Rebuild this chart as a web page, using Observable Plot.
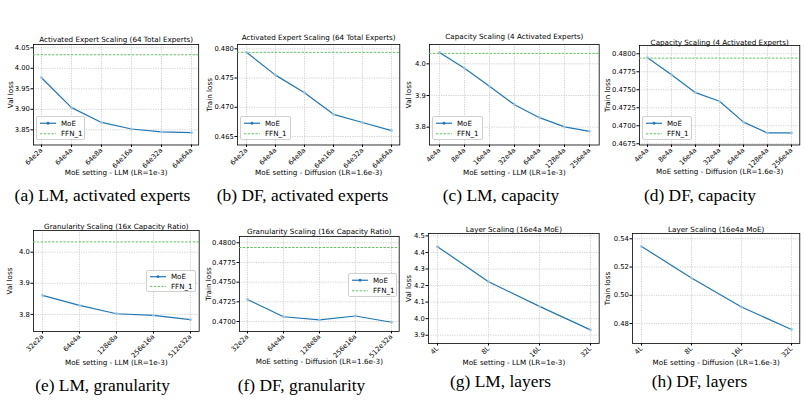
<!DOCTYPE html>
<html>
<head>
<meta charset="utf-8">
<script src="https://cdn.jsdelivr.net/npm/d3@7"></script>
<script src="https://cdn.jsdelivr.net/npm/@observablehq/plot@0.6"></script>
<style>
  html, body { margin: 0; padding: 0; background: #fff; }
  #fig { position: relative; width: 804px; height: 403px; overflow: hidden; background: #fff; font-family: "DejaVu Sans", sans-serif; }
  .panel { position: absolute; }
  .caption { position: absolute; width: 260px; text-align: center; white-space: nowrap; color: #000;
             font-family: "Liberation Serif", "Times New Roman", serif; font-size: 17.4px; line-height: 18px; }
  .legend { position: absolute; box-sizing: border-box; border: 0.8px solid #d0d0d0; border-radius: 2px;
            background: rgba(255,255,255,0.85); }
  .legend svg { position: absolute; left: 0; top: 0; overflow: visible; }
</style>
</head>
<body>
<div id="fig"></div>
<script>
// Settings (x categories)
const expertsCats = ["64e2a", "64e4a", "64e8a", "64e16a", "64e32a", "64e64a"];
const capacityCats = ["4e4a", "8e4a", "16e4a", "32e4a", "64e4a", "128e4a", "256e4a"];
const granularityCats = ["32e2a", "64e4a", "128e8a", "256e16a", "512e32a"];
const layerCats = ["4L", "8L", "16L", "32L"];

// MoE losses
const lmExpertsLoss = [3.977, 3.904, 3.868, 3.852, 3.845, 3.843];
const dfExpertsLoss = [0.4794, 0.4755, 0.4725, 0.4688, 0.4674, 0.4660];
const lmCapacityLoss = [4.036, 3.986, 3.929, 3.871, 3.830, 3.801, 3.787];
const dfCapacityLoss = [0.47945, 0.4771, 0.4746, 0.4734, 0.4705, 0.4690, 0.4690];
const lmGranularityLoss = [3.861, 3.829, 3.802, 3.797, 3.783];
const dfGranularityLoss = [0.4728, 0.4706, 0.4702, 0.4707, 0.4699];
const lmLayerLoss = [4.435, 4.223, 4.074, 3.932];
const dfLayerLoss = [0.5346, 0.5122, 0.4917, 0.4758];

// Dense FFN baselines
const lmFfnLoss = 4.033;
const dfFfnLoss = 0.4794;

// Y tick values
const lmExpertsTicks = [3.85, 3.90, 3.95, 4.00, 4.05];
const dfExpertsTicks = [0.465, 0.470, 0.475, 0.480];
const lmCapacityTicks = [3.8, 3.9, 4.0];
const dfCapacityTicks = [0.4675, 0.4700, 0.4725, 0.4750, 0.4775, 0.4800];
const lmGranularityTicks = [3.8, 3.9, 4.0];
const dfGranularityTicks = [0.4700, 0.4725, 0.4750, 0.4775, 0.4800];
const lmLayerTicks = [3.9, 4.0, 4.1, 4.2, 4.3, 4.4, 4.5];
const dfLayerTicks = [0.48, 0.50, 0.52, 0.54];

const lmXLabel = "MoE setting - LLM (LR=1e-3)";
const dfXLabel = "MoE setting - Diffusion (LR=1.6e-3)";

const MOE_BLUE = "#1f77b4";
const FFN_GREEN = "#5fc25f";
const TEXT_SIZE = 7.2;
const TICK_SIZE = 6.8;

// Layout of each subplot: frame box, text anchors (page px), y domain
const panels = [
  { cats: expertsCats, values: lmExpertsLoss, ffn: lmFfnLoss, ticks: lmExpertsTicks, fmt: ".2f",
    ylabel: "Val loss", xlabel: lmXLabel, title: "Activated Expert Scaling (64 Total Experts)",
    caption: "(a) LM, activated experts", domain: [3.813, 4.058],
    frame: { l: 33.3, r: 198.5, t: 44, b: 144.5 }, titleY: 39, xlabelY: 172.7, ylabelX: 10.3,
    captionX: 102.5, captionY: 201, legend: { x: 36, y: 116, w: 49, h: 24 } },
  { cats: expertsCats, values: dfExpertsLoss, ffn: dfFfnLoss, ticks: dfExpertsTicks, fmt: ".3f",
    ylabel: "Train loss", xlabel: dfXLabel, title: "Activated Expert Scaling (64 Total Experts)",
    caption: "(b) DF, activated experts", domain: [0.46355, 0.48074],
    frame: { l: 236.7, r: 399, t: 44, b: 144.5 }, titleY: 37.5, xlabelY: 172.7, ylabelX: 209.3,
    captionX: 302.5, captionY: 201, legend: { x: 240.2, y: 116, w: 51, h: 24 } },
  { cats: capacityCats, values: lmCapacityLoss, ffn: lmFfnLoss, ticks: lmCapacityTicks, fmt: ".1f",
    ylabel: "Val loss", xlabel: lmXLabel, title: "Capacity Scaling (4 Activated Experts)",
    caption: "(c) LM, capacity", domain: [3.7438, 4.061],
    frame: { l: 429.3, r: 599, t: 44, b: 144.5 }, titleY: 36.5, xlabelY: 172.7, ylabelX: 408.3,
    captionX: 501, captionY: 201, legend: { x: 431.5, y: 116, w: 51, h: 24 } },
  { cats: capacityCats, values: dfCapacityLoss, ffn: dfFfnLoss, ticks: dfCapacityTicks, fmt: ".4f",
    ylabel: "Train loss", xlabel: dfXLabel, title: "Capacity Scaling (4 Activated Experts)",
    caption: "(d) DF, capacity", domain: [0.46733, 0.48115],
    frame: { l: 639, r: 799.3, t: 45, b: 144.5 }, titleY: 42.5, xlabelY: 171.7, ylabelX: 606.7,
    captionX: 700, captionY: 200.5, legend: { x: 642, y: 116, w: 50, h: 24 } },
  { cats: granularityCats, values: lmGranularityLoss, ffn: lmFfnLoss, ticks: lmGranularityTicks, fmt: ".1f",
    ylabel: "Val loss", xlabel: lmXLabel, title: "Granularity Scaling (16x Capacity Ratio)",
    caption: "(e) LM, granularity", domain: [3.745, 4.0697],
    frame: { l: 33.3, r: 199, t: 230, b: 331 }, titleY: 226.5, xlabelY: 362.3, ylabelX: 9.3,
    captionX: 102.5, captionY: 390.5, legend: { x: 145.5, y: 269.5, w: 50.5, h: 22 } },
  { cats: granularityCats, values: dfGranularityLoss, ffn: dfFfnLoss, ticks: dfGranularityTicks, fmt: ".4f",
    ylabel: "Train loss", xlabel: dfXLabel, title: "Granularity Scaling (16x Capacity Ratio)",
    caption: "(f) DF, granularity", domain: [0.46873, 0.4808],
    frame: { l: 239.3, r: 399, t: 236, b: 331 }, titleY: 231.5, xlabelY: 361.7, ylabelX: 208.3,
    captionX: 301.5, captionY: 390.5, legend: { x: 347.5, y: 273, w: 49, h: 24 } },
  { cats: layerCats, values: lmLayerLoss, ffn: null, ticks: lmLayerTicks, fmt: ".1f",
    ylabel: "Val loss", xlabel: lmXLabel, title: "Layer Scaling (16e4a MoE)",
    caption: "(g) LM, layers", domain: [3.85, 4.5145],
    frame: { l: 428.3, r: 599, t: 233.3, b: 343.3 }, titleY: 229.5, xlabelY: 362.7, ylabelX: 408.3,
    captionX: 500.5, captionY: 387, legend: null },
  { cats: layerCats, values: dfLayerLoss, ffn: null, ticks: dfLayerTicks, fmt: ".2f",
    ylabel: "Train loss", xlabel: dfXLabel, title: "Layer Scaling (16e4a MoE)",
    caption: "(h) DF, layers", domain: [0.4659, 0.54374],
    frame: { l: 631.7, r: 799, t: 233.3, b: 343.3 }, titleY: 229.5, xlabelY: 362.3, ylabelX: 606.7,
    captionX: 699.5, captionY: 387, legend: null }
];

const fig = document.getElementById("fig");

function drawPanel(p) {
  const ML = 45, MT = 22, MR = 4, MB = 50;
  const f = p.frame;
  const fw = f.r - f.l, fh = f.b - f.t;
  const rows = p.cats.map((c, i) => ({ setting: c, loss: p.values[i] }));
  const n = p.cats.length;
  const gridStyle = { stroke: "#bdbdbd", strokeOpacity: 1, strokeWidth: 0.7, strokeDasharray: "1.2,1.2" };

  const marks = [
    Plot.gridX(gridStyle),
    Plot.gridY(p.ticks, gridStyle),
    Plot.frame({ stroke: "#000", strokeWidth: 0.8 }),
    Plot.axisX({ tickRotate: -45, tickSize: 2.5, tickPadding: 1.5, label: null, fontSize: TICK_SIZE, fill: "#000" }),
    Plot.axisY(p.ticks, { tickFormat: d3.format(p.fmt), tickSize: 2.5, tickPadding: 1.2, label: null, fontSize: TICK_SIZE, fill: "#000" }),
  ];
  if (p.ffn != null) {
    marks.push(Plot.ruleY([p.ffn], { stroke: FFN_GREEN, strokeWidth: 1, strokeDasharray: "2.4,1.4" }));
  }
  marks.push(
    Plot.line(rows, { x: "setting", y: "loss", stroke: MOE_BLUE, strokeWidth: 1.2 }),
    Plot.dot(rows, { x: "setting", y: "loss", r: 1.4, fill: "#9cc3e4", stroke: "none" }),
    Plot.text([p.title], { frameAnchor: "top", dy: p.titleY - f.t, text: d => d, lineAnchor: "middle",
                           fontSize: TEXT_SIZE, fill: "#000" }),
    Plot.text([p.xlabel], { frameAnchor: "bottom", dy: p.xlabelY - f.b, text: d => d, lineAnchor: "middle",
                            fontSize: TEXT_SIZE, fill: "#000" }),
    Plot.text([p.ylabel], { frameAnchor: "left", dx: p.ylabelX - f.l, text: d => d, rotate: -90,
                            textAnchor: "middle", lineAnchor: "middle", fontSize: TEXT_SIZE, fill: "#000" })
  );

  const chart = Plot.plot({
    width: fw + ML + MR,
    height: fh + MT + MB,
    marginLeft: ML, marginRight: MR, marginTop: MT, marginBottom: MB,
    style: { background: "transparent", fontFamily: "DejaVu Sans, sans-serif", fontSize: "7px", overflow: "visible", color: "#000" },
    x: { type: "point", domain: p.cats, padding: 0.05 * (n - 1) },
    y: { domain: p.domain },
    marks
  });
  chart.classList.add("panel");
  chart.style.left = (f.l - ML) + "px";
  chart.style.top = (f.t - MT) + "px";
  chart.style.maxWidth = "none";
  fig.appendChild(chart);

  // caption under the subplot
  const cap = document.createElement("div");
  cap.className = "caption";
  cap.textContent = p.caption;
  cap.style.left = (p.captionX - 130) + "px";
  cap.style.top = (p.captionY - 14.6) + "px";
  fig.appendChild(cap);

  if (p.legend) drawLegend(p.legend);
}

function drawLegend(L) {
  const box = document.createElement("div");
  box.className = "legend";
  box.style.left = L.x + "px";
  box.style.top = L.y + "px";
  box.style.width = L.w + "px";
  box.style.height = L.h + "px";
  const y1 = L.h * 0.26, y2 = L.h * 0.7;
  const svg = d3.create("svg").attr("width", L.w).attr("height", L.h);
  svg.append("line").attr("x1", 3).attr("x2", 19).attr("y1", y1).attr("y2", y1)
    .attr("stroke", MOE_BLUE).attr("stroke-width", 1.2);
  svg.append("circle").attr("cx", 11).attr("cy", y1).attr("r", 1.4).attr("fill", MOE_BLUE);
  svg.append("line").attr("x1", 3).attr("x2", 19).attr("y1", y2).attr("y2", y2)
    .attr("stroke", FFN_GREEN).attr("stroke-width", 1).attr("stroke-dasharray", "2.4,1.4");
  const t = [["MoE", y1], ["FFN_1", y2]];
  for (const [label, y] of t) {
    svg.append("text").attr("x", 24).attr("y", y).attr("dy", "0.35em")
      .attr("font-family", "DejaVu Sans, sans-serif").attr("font-size", 7.1).attr("fill", "#000").text(label);
  }
  box.appendChild(svg.node());
  fig.appendChild(box);
}

panels.forEach(drawPanel);
</script>
</body>
</html>
